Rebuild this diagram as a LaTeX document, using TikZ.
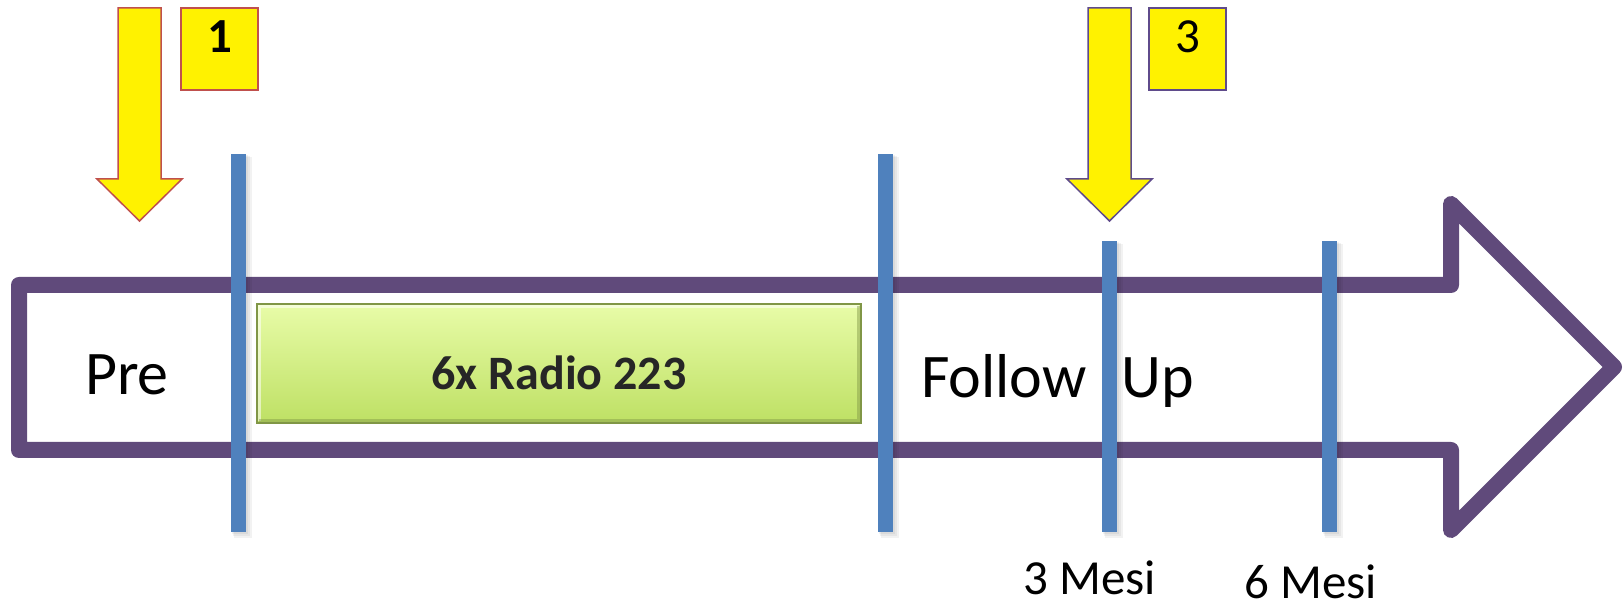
\documentclass[tikz,border=0pt]{standalone}
\usepackage{fontspec}
\setmainfont{Carlito}
\definecolor{tlpurple}{HTML}{604A7B}
\definecolor{barblue}{HTML}{4F81BD}
\definecolor{redline}{HTML}{C0504D}
\definecolor{violetline}{HTML}{5F4B8B}
\definecolor{greentop}{RGB}{232,252,168}
\definecolor{greenbot}{RGB}{190,224,100}
\definecolor{greenedge}{RGB}{128,150,70}
\begin{document}
\begin{tikzpicture}[x=0.5pt,y=-0.5pt,
  timeline/.style={draw=tlpurple, line width=8pt, line join=round, fill=white},
  bar/.style={fill=barblue},
  barshadow/.style={fill=black, opacity=0.05},
  pointer/.style={fill=yellow, line width=0.75pt, line join=miter},
  numbox/.style={draw, fill=yellow, line width=0.75pt, minimum width=38.5pt,
    minimum height=41pt, inner sep=0pt, text height=12pt, text depth=8pt,
    font=\fontsize{24.5}{28}\selectfont},
  radiobox/.style={draw=greenedge, line width=0.6pt, top color=greentop,
    bottom color=greenbot, minimum width=302pt, minimum height=59.5pt,
    inner sep=0pt, text height=26.5pt, text depth=0pt,
    font=\bfseries\fontsize{24}{28}\selectfont, text=black!85},
  phase/.style={anchor=base west, font=\fontsize{31}{36}\selectfont},
  months/.style={anchor=base west, inner sep=0pt, text depth=0pt,
    font=\fontsize{24.5}{28}\selectfont}
]
\useasboundingbox (0,0) rectangle (1623,608);

% timeline arrow
\draw[timeline] (19,285) -- (1451,285) -- (1451,204) -- (1614,367)
  -- (1451,530) -- (1451,450) -- (19,450) -- cycle;

% treatment block with a light bevel
\node[radiobox] (radio) at (559,363.5) {6x Radio 223};
\draw[white, opacity=0.55, line width=1.2pt]
  ([shift={(3,-3)}]radio.south west) -- ([shift={(3,3)}]radio.north west)
  -- ([shift={(-3,3)}]radio.north east);
\draw[greenedge, opacity=0.45, line width=1.2pt]
  ([shift={(-3,3)}]radio.north east) -- ([shift={(-3,-3)}]radio.south east)
  -- ([shift={(3,-3)}]radio.south west);

% phase labels
\node[phase] (pre) at (78,395) {Pre};
\node[phase] (follow) at (914,398) {Follow\hspace{17.5pt}Up};

% phase separators and follow-up marks, each with a soft shadow
\foreach \x/\top in {238/154, 885/154, 1109.5/241, 1329.5/241}{
  \foreach \s in {2,4,6}{
    \fill[barshadow] (\x-7.5+\s/2,\top+\s/2) rectangle (\x+7.5+\s,532+\s);
  }
  \fill[bar] (\x-7.5,\top) rectangle (\x+7.5,532);
}

% month labels
\node[months] (m3) at (1023,595) {3 Mesi};
\node[months] (m6) at (1244,599) {6 Mesi};

% assessment pointers
\draw[pointer, draw=redline] (118,8) -- (161,8) -- (161,179) -- (182,179)
  -- (139.5,221) -- (97,179) -- (118,179) -- cycle;
\draw[pointer, draw=violetline] (1088,8) -- (1131,8) -- (1131,179) -- (1152,179)
  -- (1109.5,221) -- (1067,179) -- (1088,179) -- cycle;

\node[numbox, draw=redline, font=\bfseries\fontsize{24.5}{28}\selectfont] (n1) at (219.5,49) {1};
\node[numbox, draw=violetline] (n3) at (1187.5,49) {3};
\end{tikzpicture}
\end{document}
